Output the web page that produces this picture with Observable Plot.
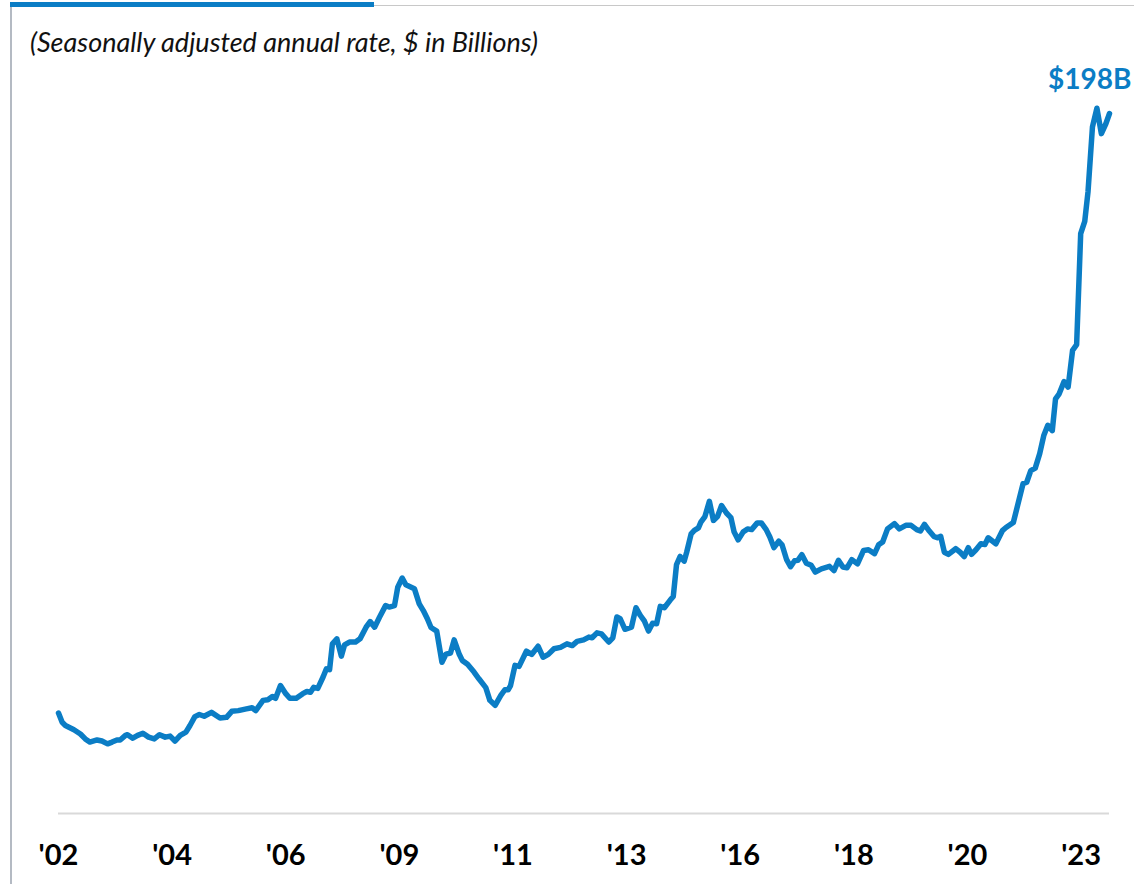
<!DOCTYPE html>
<html>
<head>
<meta charset="utf-8">
<script src="https://cdn.jsdelivr.net/npm/d3@7"></script>
<script src="https://cdn.jsdelivr.net/npm/@observablehq/plot@0.6"></script>
<style>
  html, body { margin: 0; padding: 0; background: #fff; }
  #page { position: relative; width: 1134px; height: 884px; overflow: hidden; font-family: Lato, "Open Sans", sans-serif; }
  #topblue { position: absolute; left: 10px; top: 2px; width: 364px; height: 5px; background: #0b7dc5; }
  #topgray { position: absolute; left: 374px; top: 5px; right: 0; height: 1px; background: #c8c8c8; }
  #leftline { position: absolute; left: 10px; top: 7px; bottom: 0; width: 2px; background: #b4bac3; }
  #header { height: 60px; position: relative; }
  #title { position: absolute; left: 30px; top: 25px; font-style: italic; font-size: 27px; color: #111; white-space: nowrap; }
  #chart svg { display: block; }
</style>
</head>
<body>
<div id="page">
  <div id="topblue"></div>
  <div id="topgray"></div>
  <div id="leftline"></div>
  <div id="header"><div id="title">(Seasonally adjusted annual rate, $ in Billions)</div></div>
  <div id="chart"></div>
</div>
<script>
// Months since Jan 2002 and values in $ billions (SAAR)
const months = [
  0,0.9,1.7,3.8,5.4,6.6,7.7,9.5,10.7,12.1,
  13.2,14.4,15.2,16.5,17,18.3,19.5,20.8,22.2,23.6,
  24.9,26.3,27.5,28.7,30,31.4,32.4,33.6,34.7,35.9,
  37.7,39.8,41.4,42.7,44.3,46.3,47.7,48.6,50.4,51.6,
  52.7,53.5,54.7,56,57,58.6,60.2,61.2,62.1,62.9,
  63.9,65.2,66,66.8,67.5,68.6,69.7,70.5,71.7,73.2,
  74.3,75.8,76.8,77.9,79.1,80.6,81.5,82.8,83.6,84.7,
  85.6,87.7,88.9,89.9,90.9,91.8,93.2,94.5,95.5,96.6,
  97.5,98.7,99.5,100.8,102.4,103.6,105.3,106.3,107.6,109,
  110,110.8,111.4,112.5,113.5,115.3,116.6,118.2,119.4,120.7,
  122.1,123.7,125.3,126.6,127.8,129.4,130.7,131.5,132.7,133.8,
  135.6,136.6,137.6,138.4,139.6,141.2,142.3,143.4,144.4,145.4,
  146.4,147.4,148.3,149.3,150.7,151.5,152.3,153.2,154.2,154.8,
  155.9,156.7,157.7,158.3,159.3,160.4,161.4,162.4,163.4,164.6,
  165.7,166.5,167.5,168.7,169.8,170.8,172.2,173.2,174.4,175.3,
  176.3,177.5,178.3,179.4,180.4,181.4,182.2,183.2,184.3,185.5,
  186.5,188,190,191.1,192.2,193.3,194.3,195.5,196.9,198.4,
  199.6,201.1,202.1,203.1,204.3,206,207.2,208.8,210.1,211.5,
  212.4,213.4,214.6,215.7,216.6,217.4,218.3,219.3,221.1,222.2,
  223.2,224.2,225,226.1,227.3,228.3,229.1,231,232.6,233.5,
  235.3,237.7,238.6,239.6,240.7,241.8,242.8,243.8,244.9,245.7,
  246.6,247.8,248.8,249.9,250.9,251.9,252.9,253.7,254.8,255.9,
  257,258.1,259
];
const values = [
  28.4,25.8,24.9,23.7,22.5,21.1,20.2,20.8,20.5,19.7,
  20.2,20.8,20.8,22.1,22.3,21.3,22.1,22.7,21.6,21.1,
  22.3,21.6,21.9,20.5,22.1,23.0,24.9,27.4,28.0,27.5,
  28.6,27.0,27.2,28.9,29.1,29.6,29.9,29.1,32.0,32.2,
  33.1,32.6,36.2,33.9,32.6,32.6,33.9,34.5,34.3,35.7,
  35.4,38.6,40.9,40.7,48.0,49.4,44.5,47.7,48.5,48.5,
  49.4,52.7,54.3,52.7,55.5,58.8,58.4,58.8,64.0,66.6,
  64.7,63.6,59.3,57.4,55.1,52.6,51.6,42.8,45.1,45.4,
  49.1,45.2,43.3,42.2,40.0,38.1,35.6,32.0,30.6,33.4,
  35.0,35.0,36.2,41.9,41.6,45.9,45.0,47.3,44.2,45.0,
  46.6,47.0,48.0,47.5,48.7,49.1,49.9,49.7,51.1,50.8,
  48.5,49.7,55.6,55.1,52.1,52.7,58.2,56.0,54.4,51.6,
  53.8,53.7,58.6,58.2,60.3,61.4,70.4,72.7,71.4,73.9,
  79.1,80.1,80.8,82.4,84.0,88.3,82.9,84.0,87.1,85.0,
  83.7,79.6,77.4,79.6,80.5,80.3,82.2,82.2,80.3,78.2,
  75.2,77.0,76.0,71.9,69.8,71.5,71.6,73.2,70.8,70.2,
  68.3,69.2,69.9,68.7,71.6,69.7,69.5,71.8,70.6,74.4,
  74.6,73.5,76.0,76.8,80.5,82.0,80.5,81.5,81.5,80.3,
  79.9,81.8,79.9,78.4,78.0,78.4,73.9,73.3,74.9,73.9,
  72.7,75.2,73.3,74.6,76.3,76.1,78.0,76.3,80.0,80.9,
  82.3,93.3,93.7,97.0,97.7,101.8,106.9,109.8,108.3,117.3,
  118.7,122.2,120.6,131.0,132.6,164.0,167.5,175.8,194.2,199.5,
  192.3,195.1,198.0
];
// Category-axis labels (every 28th month)
const tickMonths = [0, 28, 56, 84, 112, 140, 168, 196, 224, 252];
const tickLabels = ["'02","'04","'06","'09","'11","'13","'16","'18","'20","'23"];
const endLabel = "$198B";

const data = months.map((m, i) => ({m, v: values[i]}));
const labelMap = new Map(tickMonths.map((m, i) => [m, tickLabels[i]]));
const last = data[data.length - 1];
const blue = "#0b7dc5";

const chart = Plot.plot({
  width: 1134,
  height: 824,
  marginLeft: 58,
  marginRight: 25,
  marginTop: 53,
  marginBottom: 71,
  style: {fontFamily: "Lato, 'Open Sans', sans-serif", background: "transparent"},
  x: {domain: [0, 259], axis: null},
  y: {domain: [0, 198], axis: null},
  marks: [
    Plot.ruleY([0], {stroke: "#d9d9d9", strokeWidth: 2}),
    Plot.axisX(tickMonths, {
      label: null, tickSize: 0, tickPadding: 31, fontSize: 29, fontWeight: "bold", fill: "#000",
      tickFormat: d => labelMap.get(d)
    }),
    Plot.line(data, {x: "m", y: "v", stroke: blue, strokeWidth: 5.5, strokeLinejoin: "round", strokeLinecap: "round"}),
    Plot.text([last], {x: "m", y: "v", text: () => endLabel, textAnchor: "end", dx: 22, dy: -33,
      fill: blue, fontSize: 28, fontWeight: "bold"})
  ]
});
document.getElementById("chart").appendChild(chart);
</script>
</body>
</html>
